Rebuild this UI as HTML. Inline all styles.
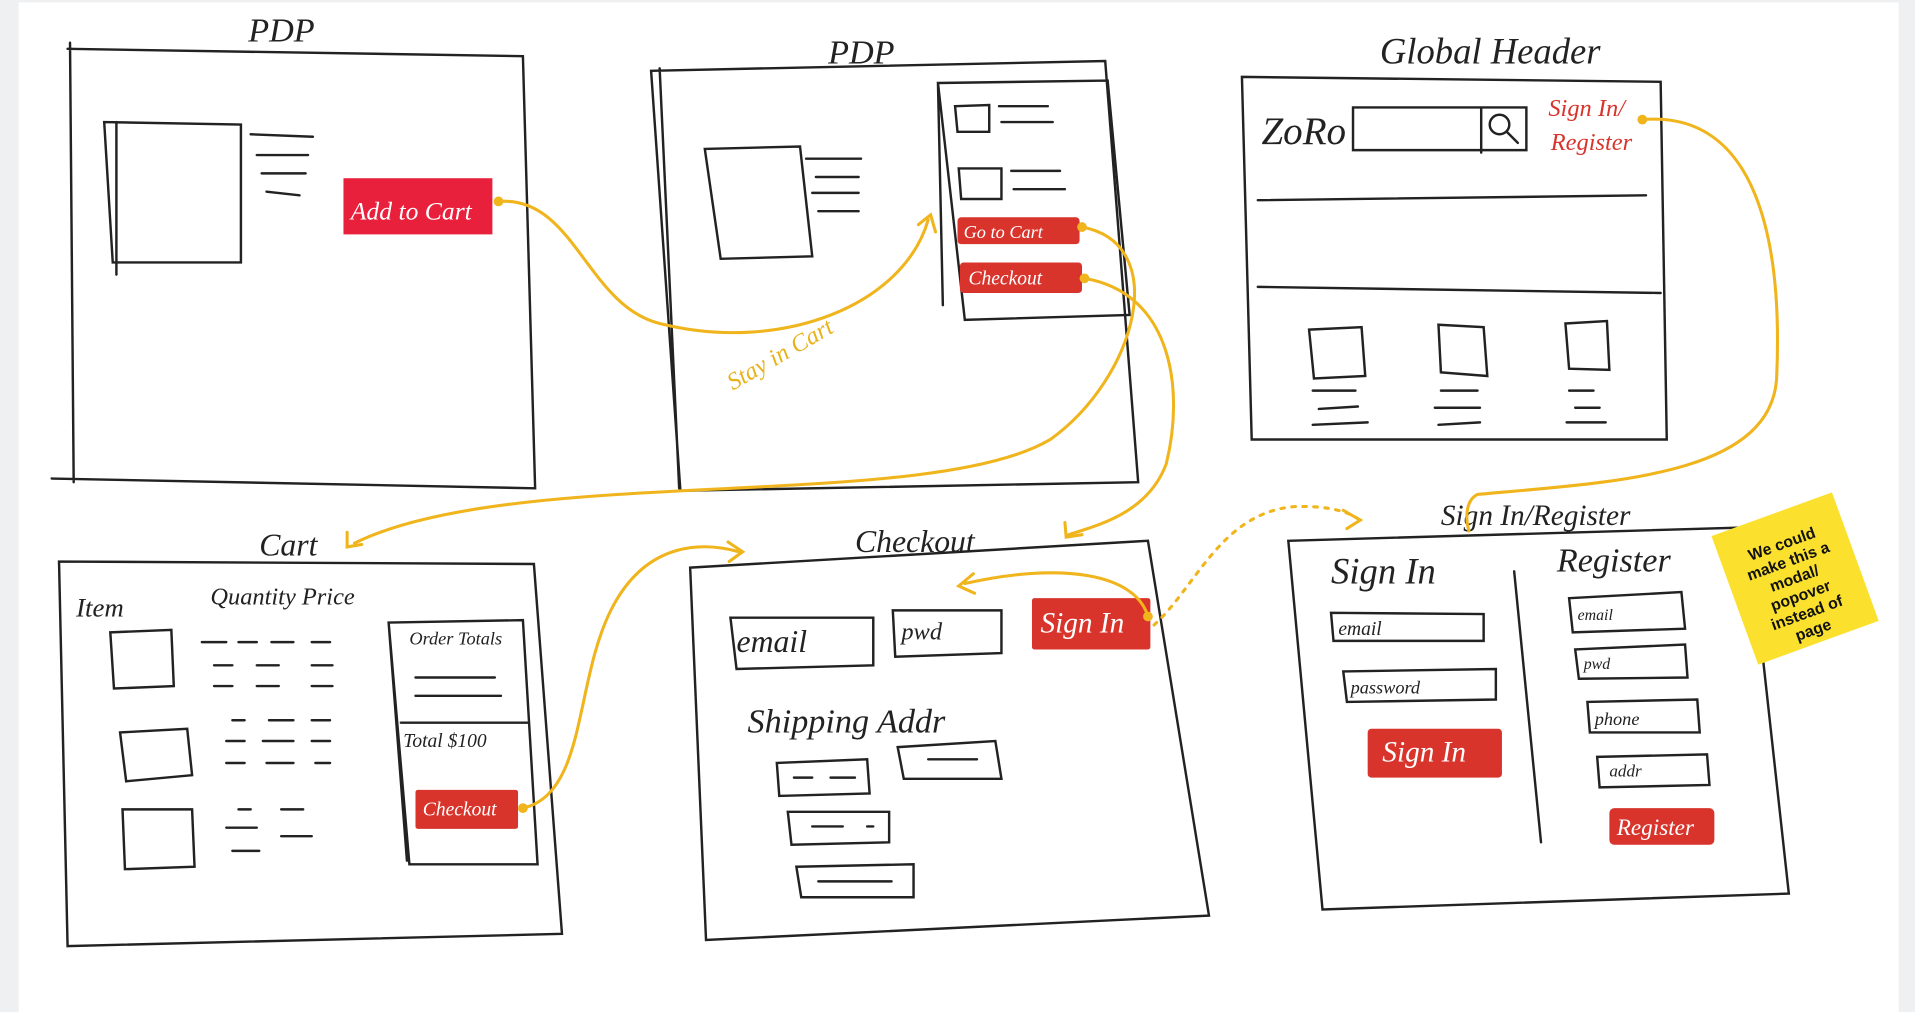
<!DOCTYPE html>
<html><head><meta charset="utf-8"><style>
html,body{margin:0;padding:0;background:#eef0f2;}
svg{display:block}
text{font-family:"Liberation Sans",sans-serif;}
.h{font-family:"Liberation Serif",serif;font-style:italic;fill:#222;}
</style></head><body>
<svg width="1915" height="1012" viewBox="0 0 1568 829" xmlns="http://www.w3.org/2000/svg">
<rect x="15" y="2" width="1540" height="827" fill="#fff"/>
<g fill="none" stroke="#222" stroke-width="2" stroke-linecap="round">
<path d="M55 40 L428 46 L438 400 L42 392 M57 35 L60 395"/>
<path d="M85 100 L197 102 L197 215 L92 215 Z M95 100 L95 225"/>
<path d="M205 110 L256 112 M210 127 L252 127 M214 142 L250 142 M218 157 L245 160"/>
<path d="M533 58 L905 50 L932 395 L557 402 Z M540 56 L556 400"/>
<path d="M577 122 L655 120 L665 210 L590 212 Z"/>
<path d="M660 130 L705 130 M668 145 L703 145 M665 158 L703 158 M670 173 L703 173"/>
<path d="M768 68 L907 66 L925 258 L790 262 Z M768 68 L772 250"/>
<path d="M782 87 L810 86 L810 108 L784 108 Z M818 87 L858 87 M820 100 L862 100"/>
<path d="M785 138 L820 138 L820 163 L787 163 Z M828 140 L868 140 M830 155 L872 155"/>
<path d="M1017 63 L1360 67 L1365 360 L1025 360 Z"/>
<path d="M1108 88 L1250 88 L1250 123 L1108 123 Z M1213 88 L1213 125"/>
<circle cx="1228" cy="102" r="8"/><path d="M1234 108 L1243 117"/>
<path d="M1030 164 L1348 160 M1030 235 L1360 240"/>
<path d="M1072 270 L1115 268 L1118 308 L1076 310 Z M1178 266 L1215 268 L1218 308 L1180 305 Z M1282 265 L1316 263 L1318 303 L1285 302 Z"/>
<path d="M1075 320 L1110 320 M1080 335 L1112 333 M1075 348 L1120 346 M1180 320 L1210 320 M1175 334 L1212 334 M1178 348 L1212 346 M1285 320 L1305 320 M1290 334 L1310 334 M1283 346 L1315 346"/>
<path d="M48 460 L437 462 L460 765 L55 775 Z"/>
<path d="M90 518 L140 516 L142 562 L93 564 Z M98 600 L153 597 L157 635 L103 640 Z M100 663 L157 663 L159 710 L102 712 Z"/>
<path d="M165 526 L185 526 M195 526 L210 526 M222 526 L240 526 M255 526 L270 526 M175 545 L190 545 M210 545 L228 545 M255 545 L272 545 M175 562 L190 562 M210 562 L228 562 M255 562 L272 562 M190 590 L200 590 M220 590 L240 590 M255 590 L270 590 M185 607 L200 607 M215 607 L240 607 M255 607 L270 607 M185 625 L200 625 M218 625 L240 625 M258 625 L270 625 M195 663 L205 663 M230 663 L248 663 M185 678 L210 678 M230 685 L255 685 M190 697 L212 697"/>
<path d="M318 510 L428 508 L440 708 L335 708 Z M318 510 L333 705 M328 592 L432 592 M340 555 L405 555 M340 570 L410 570"/>
<path d="M565 465 L940 443 L990 750 L578 770 Z"/>
<path d="M598 506 L715 506 L715 545 L603 548 Z M731 500 L820 500 L820 535 L733 538 Z"/>
<path d="M636 625 L710 622 L712 650 L638 652 Z M735 612 L815 607 L820 638 L740 638 Z M645 665 L728 665 L728 690 L648 692 Z M652 710 L748 708 L748 735 L656 735 Z"/>
<path d="M650 637 L665 637 M680 637 L700 637 M760 622 L800 622 M665 677 L690 677 M710 677 L715 677 M670 722 L730 722"/>
<path d="M1055 443 L1432 432 L1465 732 L1083 745 Z M1240 468 L1262 690"/>
<path d="M1090 502 L1215 503 L1215 525 L1092 525 Z M1100 550 L1225 548 L1225 573 L1103 575 Z"/>
<path d="M1285 490 L1377 485 L1380 515 L1288 518 Z M1290 532 L1380 528 L1382 555 L1293 556 Z M1300 575 L1390 573 L1392 600 L1302 600 Z M1308 620 L1398 618 L1400 643 L1310 645 Z"/>
</g>
<g fill="#d8342c">
<rect x="281" y="146" width="122" height="46" fill="#e8203c"/>
<rect x="784" y="178" width="100" height="22" rx="3"/>
<rect x="786" y="215" width="100" height="25" rx="3"/>
<rect x="340" y="647" width="84" height="32" rx="2"/>
<rect x="845" y="490" width="97" height="42" rx="2"/>
<rect x="1120" y="597" width="110" height="40" rx="3"/>
<rect x="1318" y="662" width="86" height="30" rx="4"/>
</g>
<g>
<text x="287" y="180" font-size="21" class="h" style="fill:#fff">Add to Cart</text>
<text x="789" y="195" font-size="15" class="h" style="fill:#fff">Go to Cart</text>
<text x="793" y="233" font-size="16" class="h" style="fill:#fff">Checkout</text>
<text x="346" y="668" font-size="16" class="h" style="fill:#fff">Checkout</text>
<text x="852" y="518" font-size="24" class="h" style="fill:#fff">Sign In</text>
<text x="1132" y="624" font-size="24" class="h" style="fill:#fff">Sign In</text>
<text x="1324" y="684" font-size="19" class="h" style="fill:#fff">Register</text>
</g>
<g class="h">
<text x="203" y="34" font-size="28" class="h">PDP</text>
<text x="678" y="52" font-size="28" class="h">PDP</text>
<text x="1130" y="52" font-size="30" class="h">Global Header</text>
<text x="1033" y="118" font-size="32" class="h">ZoRo</text>
<text x="212" y="455" font-size="26" class="h">Cart</text>
<text x="700" y="452" font-size="26" class="h">Checkout</text>
<text x="1180" y="430" font-size="24" class="h">Sign In/Register</text>
<text x="62" y="505" font-size="22" class="h">Item</text>
<text x="172" y="495" font-size="20" class="h">Quantity Price</text>
<text x="335" y="528" font-size="15" class="h">Order Totals</text>
<text x="330" y="612" font-size="16" class="h">Total $100</text>
<text x="603" y="534" font-size="26" class="h">email</text>
<text x="738" y="524" font-size="20" class="h">pwd</text>
<text x="612" y="600" font-size="28" class="h">Shipping Addr</text>
<text x="1090" y="478" font-size="30" class="h">Sign In</text>
<text x="1275" y="468" font-size="28" class="h">Register</text>
<text x="1096" y="520" font-size="16" class="h">email</text>
<text x="1106" y="568" font-size="15" class="h">password</text>
<text x="1292" y="508" font-size="13" class="h">email</text>
<text x="1297" y="548" font-size="13" class="h">pwd</text>
<text x="1306" y="594" font-size="15" class="h">phone</text>
<text x="1318" y="636" font-size="14" class="h">addr</text>
</g>
<text x="1268" y="95" font-size="20" class="h" style="fill:#d8342c">Sign In/</text>
<text x="1270" y="123" font-size="20" class="h" style="fill:#d8342c">Register</text>
<text x="600" y="320" font-size="20" class="h" style="fill:#e8b21a" transform="rotate(-30 600 320)">Stay in Cart</text>
<g fill="none" stroke="#f0b41c" stroke-width="2.5" stroke-linecap="round">
<path d="M408 165 C470 160 480 250 540 265 C640 290 740 250 760 180"/>
<path d="M752 184 L762 176 L766 190"/>
<path d="M886 186 C960 200 930 310 860 360 C760 420 420 380 290 445"/>
<path d="M284 436 L284 448 L296 446"/>
<path d="M888 228 C960 240 970 320 955 380 C940 420 900 430 875 438"/>
<path d="M872 428 L873 440 L886 438"/>
<path d="M428 662 C480 650 470 560 500 500 C530 440 580 445 605 452"/>
<path d="M596 444 L608 452 L597 460"/>
<path d="M940 505 C930 470 870 460 790 478"/>
<path d="M797 470 L785 480 L798 486"/>
<path d="M1345 98 C1440 90 1460 200 1455 310 C1450 390 1320 395 1210 405 C1200 410 1200 425 1203 435"/>
<path d="M945 512 C980 480 1000 420 1060 415 C1090 414 1105 420 1112 425" stroke-dasharray="3 6"/>
<path d="M1100 418 L1114 426 L1103 433"/>
</g>
<g fill="#f0b41c"><circle cx="408" cy="165" r="4"/><circle cx="886" cy="186" r="4"/><circle cx="888" cy="228" r="4"/><circle cx="428" cy="662" r="4"/><circle cx="940" cy="505" r="4"/><circle cx="1345" cy="98" r="4"/></g>
<g transform="rotate(-20 1470 475)">
<rect x="1418" y="418" width="105" height="112" fill="#fbe12e"/>
<text font-size="13" font-weight="bold" fill="#111" text-anchor="middle">
<tspan x="1470" y="448">We could</tspan><tspan x="1470" y="463">make this a</tspan><tspan x="1470" y="478">modal/</tspan><tspan x="1470" y="493">popover</tspan><tspan x="1470" y="508">instead of</tspan><tspan x="1470" y="523">page</tspan></text>
</g>
</svg>
</body></html>
